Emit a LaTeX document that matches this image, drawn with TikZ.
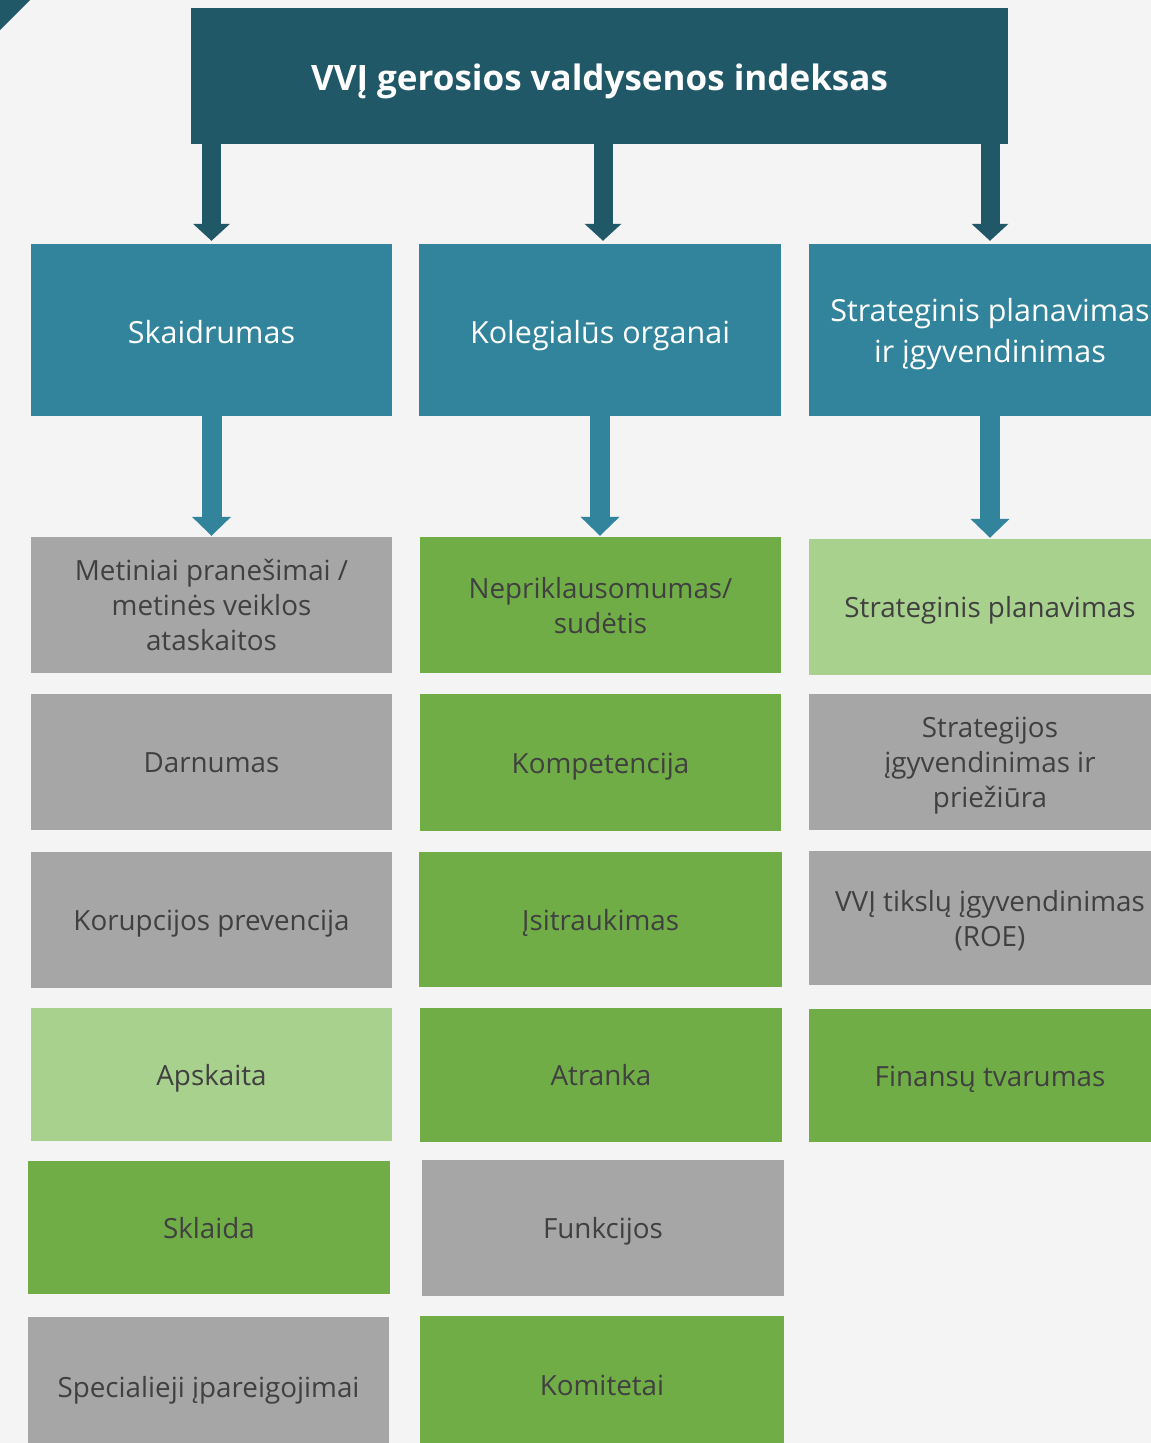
\documentclass[tikz,border=0pt]{standalone}
\usepackage{fontspec}
\setmainfont{Open Sans}
\usetikzlibrary{arrows.meta}
\definecolor{dteal}{HTML}{215868}
\definecolor{teal2}{HTML}{31849B}
\definecolor{grn}{HTML}{70AD47}
\definecolor{lgrn}{HTML}{A9D18E}
\definecolor{gry}{HTML}{A6A6A6}
\definecolor{txt}{HTML}{404040}
\definecolor{bg}{HTML}{F4F4F5}
\tikzset{
  x=1pt, y=-1pt,
  cell/.style={inner sep=0pt, align=center, text=txt, minimum width=361pt,
    font=\fontsize{27.8}{35}\selectfont, text height=21pt, text depth=0pt},
  two/.style={text height=56pt},
  three/.style={text height=91pt},
  head/.style={inner sep=0pt, align=center, text=white, fill=teal2, minimum width=362pt,
    minimum height=172pt, font=\fontsize{30.5}{41}\selectfont, text height=26pt, text depth=0pt},
  arrA/.style={draw=dteal, line width=19pt, -{Triangle[width=36pt,length=17pt]}, shorten >=3pt},
  arrB/.style={draw=teal2, line width=20pt, -{Triangle[width=38pt,length=19pt]}, shorten >=1pt},
}
\begin{document}
\begin{tikzpicture}
\useasboundingbox (0,0) rectangle (1151,1443);
\clip (0,0) rectangle (1151,1443);
\fill[bg] (0,0) rectangle (1151,1443);
\fill[dteal] (0,0) -- (30,0) -- (0,30) -- cycle;
% top
\node[fill=dteal, text=white, inner sep=0pt, minimum width=817pt, minimum height=136pt,
  text height=28pt, text depth=0pt,
  font=\fontsize{35}{40}\selectfont\bfseries] (top) at (599.5,76) {VVĮ gerosios valdysenos indeksas};
% level 2
\node[head, minimum width=361pt] (sk) at (211.5,330) {Skaidrumas};
\node[head] (ko) at (600,330) {Kolegialūs organai};
\node[head, text height=64pt] (st) at (990,330) {Strateginis planavimas\\ir įgyvendinimas};
% column 1
\node[cell, three, fill=gry, minimum height=136pt] (a1) at (211.5,605) {Metiniai pranešimai /\\metinės veiklos\\ataskaitos};
\node[cell, fill=gry, minimum height=136pt] (a2) at (211.5,762) {Darnumas};
\node[cell, fill=gry, minimum height=136pt] (a3) at (211.5,920) {Korupcijos prevencija};
\node[cell, fill=lgrn, minimum height=133pt] (a4) at (211.5,1074.5) {Apskaita};
\node[cell, fill=grn, minimum width=362pt, minimum height=133pt] (a5) at (209,1227.5) {Sklaida};
\node[cell, fill=gry, minimum height=140pt] (a6) at (208.5,1387) {Specialieji įpareigojimai};
% column 2
\node[cell, two, fill=grn, minimum height=136pt] (b1) at (600.5,605) {Nepriklausomumas/\\sudėtis};
\node[cell, fill=grn, minimum height=137pt] (b2) at (600.5,762.5) {Kompetencija};
\node[cell, fill=grn, minimum width=363pt, minimum height=135pt] (b3) at (600.5,919.5) {Įsitraukimas};
\node[cell, fill=grn, minimum width=362pt, minimum height=134pt] (b4) at (601,1075) {Atranka};
\node[cell, fill=gry, minimum width=362pt, minimum height=136pt] (b5) at (603,1228) {Funkcijos};
\node[cell, fill=grn, minimum width=364pt, minimum height=138pt] (b6) at (602,1385) {Komitetai};
% column 3
\node[cell, fill=lgrn, minimum width=362pt, minimum height=136pt] (c1) at (990,607) {Strateginis planavimas};
\node[cell, three, fill=gry, minimum width=362pt, minimum height=136pt] (c2) at (990,762) {Strategijos\\įgyvendinimas ir\\priežiūra};
\node[cell, two, fill=gry, minimum width=362pt, minimum height=134pt] (c3) at (990,918) {VVĮ tikslų įgyvendinimas\\(ROE)};
\node[cell, fill=grn, minimum width=362pt, minimum height=133pt] (c4) at (990,1075.5) {Finansų tvarumas};
% arrows from top
\draw[arrA] (top.south -| sk.north) -- (sk.north);
\draw[arrA] ([xshift=3pt]top.south -| ko.north) -- ([xshift=3pt]ko.north);
\draw[arrA] (top.south -| st.north) -- (st.north);
% arrows from level 2
\draw[arrB] (sk.south) -- (a1.north -| sk.south);
\draw[arrB] (ko.south) -- (b1.north -| ko.south);
\draw[arrB] (st.south) -- (c1.north -| st.south);
\end{tikzpicture}
\end{document}
